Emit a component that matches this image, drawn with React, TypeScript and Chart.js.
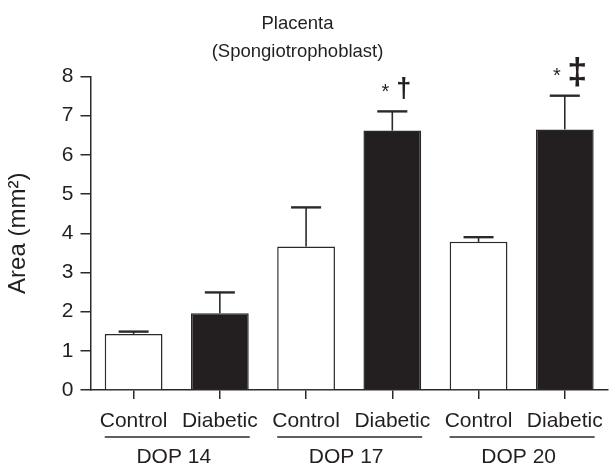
import React, { useEffect, useRef } from 'react';
import { Chart, registerables } from 'chart.js';

Chart.register(...registerables);

// ---- data ----
const groups = ['DOP 14', 'DOP 17', 'DOP 20'];
const conditions = ['Control', 'Diabetic'];
const controlMean = [1.43, 3.66, 3.78];
const controlErr = [0.06, 1.0, 0.12];
const diabeticMean = [1.96, 6.62, 6.65];
const diabeticErr = [0.53, 0.49, 0.86];
const diabeticMarks: string[][] = [[], ['*', '†'], ['*', '‡']];
const yMin = 0;
const yMax = 8;
const yStep = 1;
const titleLines = ['Placenta', '(Spongiotrophoblast)'];
const yTitle = 'Area (mm²)';

const FONT = "'Liberation Sans', Arial, Helvetica, sans-serif";
const INK = '#231f20';
const LINE = '#2a2a2a';

const labels = groups.flatMap(() => conditions);
const values = groups.flatMap((_, i) => [controlMean[i], diabeticMean[i]]);
const errors = groups.flatMap((_, i) => [controlErr[i], diabeticErr[i]]);
const marks = groups.flatMap((_, i) => [[] as string[], diabeticMarks[i]]);
const fills = groups.flatMap(() => ['#ffffff', INK]);

const overlayPlugin = {
  id: 'overlay',
  afterDatasetsDraw(chart: any) {
    const ctx = chart.ctx;
    const meta = chart.getDatasetMeta(0);
    const y = chart.scales.y;
    ctx.save();
    // error bars (upper only)
    meta.data.forEach((bar: any, i: number) => {
      const top = y.getPixelForValue(values[i]);
      const end = y.getPixelForValue(values[i] + errors[i]);
      const half = bar.width * 0.26;
      ctx.strokeStyle = LINE;
      ctx.lineWidth = 1.6;
      ctx.beginPath();
      ctx.moveTo(bar.x, top);
      ctx.lineTo(bar.x, end);
      ctx.stroke();
      ctx.lineWidth = 2.4;
      ctx.beginPath();
      ctx.moveTo(bar.x - half, end);
      ctx.lineTo(bar.x + half, end);
      ctx.stroke();
      // significance marks
      const m = marks[i];
      if (m.length === 2) {
        ctx.fillStyle = INK;
        ctx.textAlign = 'center';
        ctx.textBaseline = 'alphabetic';
        const dbl = m[1] === '‡';
        const big = dbl ? 36 : 27;
        ctx.font = `bold ${big}px ${FONT}`;
        const dm = ctx.measureText(m[1]);
        const bottom = end - (dbl ? 9 : 11.5);
        const baseD = bottom - dm.actualBoundingBoxDescent;
        const midD = bottom - (dm.actualBoundingBoxAscent + dm.actualBoundingBoxDescent) / 2;
        ctx.fillText(m[1], bar.x + (dbl ? 12.5 : 11.5), baseD);
        ctx.font = `20px ${FONT}`;
        const am = ctx.measureText(m[0]);
        const baseA = midD + (am.actualBoundingBoxAscent - am.actualBoundingBoxDescent) / 2;
        ctx.fillText(m[0], bar.x - (dbl ? 8 : 7), baseA);
      }
    });
    ctx.restore();
  },
  afterDraw(chart: any) {
    const ctx = chart.ctx;
    const meta = chart.getDatasetMeta(0);
    const area = chart.chartArea;
    ctx.save();
    // group underlines + labels
    groups.forEach((g, gi) => {
      const a = meta.data[gi * 2];
      const b = meta.data[gi * 2 + 1];
      const left = a.x - a.width / 2;
      const right = b.x + b.width / 2 + 1;
      const ly = area.bottom + 47;
      ctx.strokeStyle = LINE;
      ctx.lineWidth = 1.5;
      ctx.beginPath();
      ctx.moveTo(left, ly);
      ctx.lineTo(right, ly);
      ctx.stroke();
      ctx.fillStyle = INK;
      ctx.font = `21px ${FONT}`;
      ctx.textAlign = 'center';
      ctx.textBaseline = 'middle';
      ctx.fillText(g, (a.x + b.x) / 2 - 3, area.bottom + 67);
    });
    // title
    ctx.font = `18.5px ${FONT}`;
    ctx.fillStyle = INK;
    ctx.textAlign = 'center';
    ctx.textBaseline = 'middle';
    const cx = 297.5;
    ctx.fillText(titleLines[0], cx, 24);
    ctx.fillText(titleLines[1], cx, 52);
    ctx.restore();
  },
};

export default function App() {
  const ref = useRef<HTMLCanvasElement>(null);
  useEffect(() => {
    if (!ref.current) return;
    const chart = new Chart(ref.current, {
      type: 'bar',
      data: {
        labels,
        datasets: [
          {
            data: values,
            backgroundColor: fills,
            borderColor: LINE,
            borderWidth: 1.5,
            categoryPercentage: 1,
            barPercentage: 0.67,
          },
        ],
      },
      options: {
        responsive: false,
        animation: false,
        events: [],
        layout: { padding: { top: 76.5, right: 3.5, left: 0, bottom: 0 } },
        plugins: {
          legend: { display: false },
          tooltip: { enabled: false },
          title: { display: false },
        },
        scales: {
          x: {
            grid: {
              display: true,
              drawOnChartArea: false,
              offset: false,
              tickLength: 9,
              color: LINE,
              lineWidth: 1.5,
            },
            border: { display: true, color: LINE, width: 1.5 },
            ticks: {
              font: { size: 21, family: FONT },
              color: INK,
              padding: 10,
              maxRotation: 0,
              autoSkip: false,
            },
            afterFit: (s: any) => {
              s.height = 77;
            },
          },
          y: {
            min: yMin,
            max: yMax,
            ticks: {
              stepSize: yStep,
              font: { size: 21, family: FONT },
              color: INK,
              padding: 7,
            },
            grid: {
              drawOnChartArea: false,
              tickLength: 10,
              color: LINE,
              lineWidth: 1.5,
            },
            border: { display: true, color: LINE, width: 1.5 },
            title: {
              display: true,
              text: yTitle,
              font: { size: 24, family: FONT },
              color: INK,
              padding: { top: 4, bottom: 4 },
            },
            afterFit: (s: any) => {
              s.width = 90.5;
            },
          },
        },
      },
      plugins: [overlayPlugin],
    });
    return () => chart.destroy();
  }, []);
  return (
    <div style={{ position: 'absolute', left: 0, top: 0, width: 613, height: 467 }}>
      <canvas ref={ref} width={613} height={467} />
    </div>
  );
}
